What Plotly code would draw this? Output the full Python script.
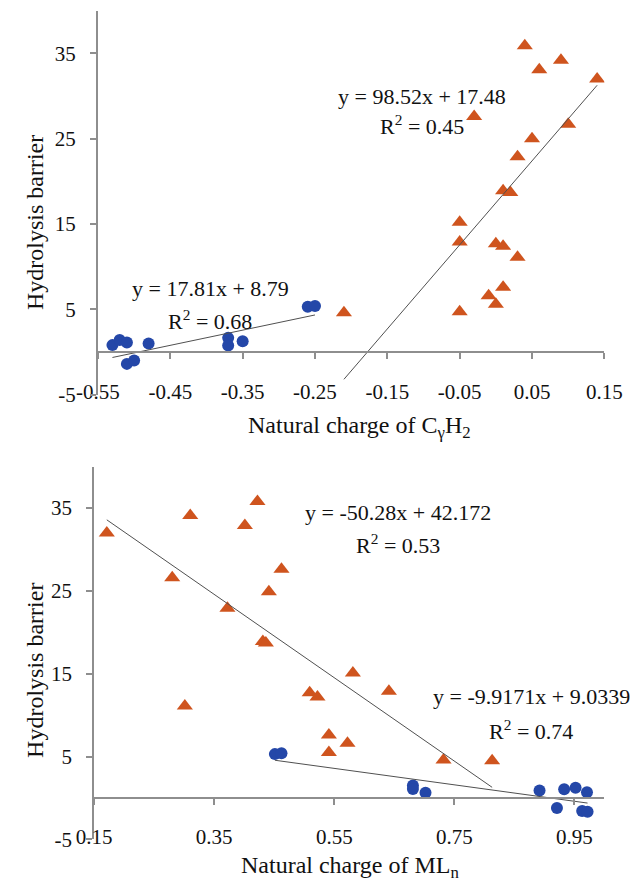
import plotly.graph_objects as go
import numpy as np

# ---------------- data ----------------
# Top panel: Natural charge of CγH2
top_circle_x = [-0.53, -0.52, -0.51, -0.48, -0.51, -0.50, -0.37, -0.37, -0.35, -0.26, -0.25]
top_circle_y = [0.8, 1.4, 1.1, 1.0, -1.4, -1.0, 1.65, 0.75, 1.25, 5.3, 5.4]
top_tri_x = [-0.21, -0.05, -0.05, -0.05, -0.03, 0.04, 0.06, 0.09, 0.14, 0.10,
             0.05, 0.03, 0.01, 0.02, 0.00, 0.01, 0.03, 0.01, -0.01, 0.00]
top_tri_y = [4.6, 4.7, 15.2, 12.9, 27.6, 35.9, 33.1, 34.2, 32.0, 26.7,
             25.0, 22.9, 18.9, 18.7, 12.7, 12.4, 11.1, 7.6, 6.6, 5.6]

# Bottom panel: Natural charge of MLn
bot_tri_x = [0.171, 0.310, 0.401, 0.422, 0.280, 0.462, 0.441, 0.372, 0.431, 0.436,
             0.581, 0.641, 0.509, 0.522, 0.301, 0.541, 0.572, 0.541, 0.732, 0.813]
bot_tri_y = [32.0, 34.1, 32.9, 35.8, 26.6, 27.6, 24.9, 22.9, 18.9, 18.7,
             15.1, 12.9, 12.7, 12.2, 11.1, 7.6, 6.6, 5.5, 4.6, 4.5]
bot_circle_x = [0.451, 0.462, 0.681, 0.681, 0.702, 0.892, 0.933, 0.952, 0.971, 0.921, 0.963, 0.972]
bot_circle_y = [5.3, 5.4, 1.5, 1.1, 0.63, 0.9, 1.05, 1.25, 0.7, -1.19, -1.55, -1.65]

# trendline coefficients (slope, intercept) as printed on the chart
top_circle_fit = (17.81, 8.79)
top_tri_fit = (98.52, 17.48)
bot_tri_fit = (-50.28, 42.172)
bot_circle_fit = (-9.9171, 9.0339)

top_xticks = [-0.55, -0.45, -0.35, -0.25, -0.15, -0.05, 0.05, 0.15]
top_xlabels = ["-0.55", "-0.45", "-0.35", "-0.25", "-0.15", "-0.05", "0.05", "0.15"]
bot_xticks = [0.15, 0.35, 0.55, 0.75, 0.95]
bot_xlabels = ["0.15", "0.35", "0.55", "0.75", "0.95"]
yticks = [-5, 5, 15, 25, 35]

top_xrange = [-0.55, 0.15]
bot_xrange = [0.15, 1.0]
yrange = [-5, 40]

# ---------------- style ----------------
W, H = 643, 886
FONT = "Times New Roman, Liberation Serif, serif"
BLUE = "#2447A8"
ORANGE = "#CF541E"
AXIS = "#8E8E8E"
TREND = "#505050"
TICKSIZE = 21
TITLESIZE = 24
ANNSIZE = 22

def px_to_paper_x(px):
    return px / W

def px_to_paper_y(py):
    return 1 - py / H

top_xdom = [px_to_paper_x(81), px_to_paper_x(621)]
bot_xdom = [px_to_paper_x(77), px_to_paper_x(621)]
top_ydom = [px_to_paper_y(400), px_to_paper_y(11)]
bot_ydom = [px_to_paper_y(851), px_to_paper_y(473)]

def zero_pos(dom):
    return dom[0] + (0 - yrange[0]) / (yrange[1] - yrange[0]) * (dom[1] - dom[0])

fig = go.Figure()

def trend(xs, fit):
    xx = np.array([min(xs), max(xs)])
    return xx, fit[0] * xx + fit[1]

# top panel traces
tx, ty = trend(top_circle_x, top_circle_fit)
fig.add_trace(go.Scatter(x=tx, y=ty, mode="lines", line=dict(color=TREND, width=1),
                         xaxis="x3", yaxis="y", showlegend=False))
tx, ty = trend(top_tri_x, top_tri_fit)
fig.add_trace(go.Scatter(x=tx, y=ty, mode="lines", line=dict(color=TREND, width=1),
                         xaxis="x3", yaxis="y", showlegend=False))
fig.add_trace(go.Scatter(x=top_circle_x, y=top_circle_y, mode="markers",
                         marker=dict(symbol="circle", size=12, color=BLUE),
                         xaxis="x", yaxis="y", showlegend=False))
fig.add_trace(go.Scatter(x=top_tri_x, y=top_tri_y, mode="markers",
                         marker=dict(symbol="triangle-up", size=14, color=ORANGE),
                         xaxis="x", yaxis="y", showlegend=False))

# bottom panel traces
tx, ty = trend(bot_tri_x, bot_tri_fit)
fig.add_trace(go.Scatter(x=tx, y=ty, mode="lines", line=dict(color=TREND, width=1),
                         xaxis="x4", yaxis="y2", showlegend=False))
tx, ty = trend(bot_circle_x, bot_circle_fit)
fig.add_trace(go.Scatter(x=tx, y=ty, mode="lines", line=dict(color=TREND, width=1),
                         xaxis="x4", yaxis="y2", showlegend=False))
fig.add_trace(go.Scatter(x=bot_tri_x, y=bot_tri_y, mode="markers",
                         marker=dict(symbol="triangle-up", size=14, color=ORANGE),
                         xaxis="x2", yaxis="y2", showlegend=False))
fig.add_trace(go.Scatter(x=bot_circle_x, y=bot_circle_y, mode="markers",
                         marker=dict(symbol="circle", size=12, color=BLUE),
                         xaxis="x2", yaxis="y2", showlegend=False))

tickfont = dict(family=FONT, size=TICKSIZE, color="#111")

def label_axis(dom, rng, vals, texts, pos_px):
    return dict(domain=dom, range=rng, anchor="free", position=px_to_paper_y(pos_px),
                tickmode="array", tickvals=vals, ticktext=texts, ticks="",
                showline=False, showgrid=False, zeroline=False, tickfont=tickfont)

def zero_axis(base, rng, vals, ydom):
    return dict(overlaying=base, range=rng, anchor="free", position=zero_pos(ydom),
                tickmode="array", tickvals=vals, ticks="outside", ticklen=6,
                tickcolor=AXIS, tickwidth=1.5, showticklabels=False,
                showline=True, linecolor=AXIS, linewidth=2,
                showgrid=False, zeroline=False)

def y_axis(dom, anchor):
    return dict(domain=dom, range=yrange, anchor=anchor, tickmode="array",
                tickvals=yticks, ticktext=[str(v) for v in yticks],
                ticks="outside", ticklen=6, tickcolor=AXIS, tickwidth=1.5,
                showline=True, linecolor=AXIS, linewidth=2, ticklabelstandoff=10,
                showgrid=False, zeroline=False, tickfont=tickfont)

ann_font = dict(family=FONT, size=ANNSIZE, color="#111")
title_font = dict(family=FONT, size=TITLESIZE, color="#111")

def ann(x, y, text, xref, yref, font, angle=0):
    return dict(x=x, y=y, xref=xref, yref=yref, text=text, showarrow=False,
                font=font, xanchor="center", yanchor="middle", textangle=angle)

annotations = [
    # top equations
    ann(-0.395, 7.43, "y = 17.81x + 8.79", "x", "y", ann_font),
    ann(-0.395, 3.7, "R<sup>2</sup> = 0.68", "x", "y", ann_font),
    ann(-0.1025, 29.9, "y = 98.52x + 17.48", "x", "y", ann_font),
    ann(-0.1025, 26.6, "R<sup>2</sup> = 0.45", "x", "y", ann_font),
    # bottom equations
    ann(0.657, 34.4, "y = -50.28x + 42.172", "x2", "y2", ann_font),
    ann(0.657, 30.6, "R<sup>2</sup> = 0.53", "x2", "y2", ann_font),
    ann(0.878, 12.2, "y = -9.9171x + 9.0339", "x2", "y2", ann_font),
    ann(0.878, 8.2, "R<sup>2</sup> = 0.74", "x2", "y2", ann_font),
    # axis titles
    ann(px_to_paper_x(360), px_to_paper_y(433), "Natural charge of C<sub>γ</sub>H<sub>2</sub>",
        "paper", "paper", title_font),
    ann(px_to_paper_x(350), px_to_paper_y(879), "Natural charge of ML<sub>n</sub>",
        "paper", "paper", title_font),
    ann(px_to_paper_x(14), px_to_paper_y(226), "Hydrolysis barrier", "paper", "paper",
        title_font, -90),
    ann(px_to_paper_x(14), px_to_paper_y(680), "Hydrolysis barrier", "paper", "paper",
        title_font, -90),
]

fig.update_layout(
    width=W, height=H, margin=dict(l=0, r=0, t=0, b=0),
    paper_bgcolor="white", plot_bgcolor="white",
    xaxis=label_axis(top_xdom, top_xrange, top_xticks, top_xlabels, 382),
    xaxis2=label_axis(bot_xdom, bot_xrange, bot_xticks, bot_xlabels, 833),
    xaxis3=zero_axis("x", top_xrange, top_xticks, top_ydom),
    xaxis4=zero_axis("x2", bot_xrange, bot_xticks, bot_ydom),
    yaxis=y_axis(top_ydom, "x"),
    yaxis2=y_axis(bot_ydom, "x2"),
    annotations=annotations,
    showlegend=False,
)

fig.write_html("out.html")
